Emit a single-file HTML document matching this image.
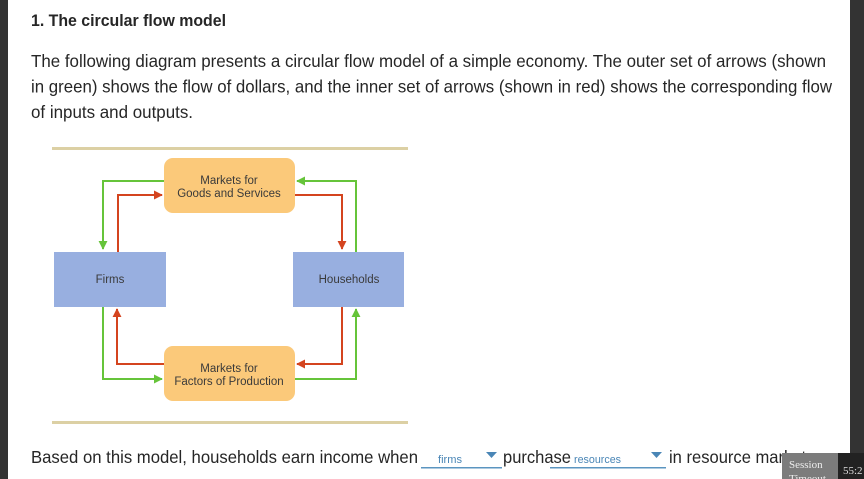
<!DOCTYPE html>
<html><head><meta charset="utf-8"><style>
html,body{margin:0;padding:0;background:#fff;}
svg{display:block;}
</style></head><body>
<svg width="864" height="479" viewBox="0 0 864 479" xmlns="http://www.w3.org/2000/svg" font-family="Liberation Sans, Arial, sans-serif">
<defs>
<marker id="ag" viewBox="0 0 10 10" refX="9" refY="5" markerWidth="4.5" markerHeight="4.5" orient="auto"><path d="M0,0 L10,5 L0,10 z" fill="#66c43a"/></marker>
<marker id="ar" viewBox="0 0 10 10" refX="9" refY="5" markerWidth="4.5" markerHeight="4.5" orient="auto"><path d="M0,0 L10,5 L0,10 z" fill="#d4441f"/></marker>
</defs>
<rect x="0" y="0" width="864" height="479" fill="#fff"/>
<rect x="0" y="0" width="8" height="479" fill="#333"/>
<rect x="850" y="0" width="14" height="479" fill="#333"/>

<text x="31" y="26" font-size="17" font-weight="bold" fill="#262626" textLength="195" lengthAdjust="spacingAndGlyphs">1. The circular flow model</text>
<text x="31" y="67" font-size="17.5" fill="#262626" textLength="795" lengthAdjust="spacingAndGlyphs">The following diagram presents a circular flow model of a simple economy. The outer set of arrows (shown</text>
<text x="31" y="92.5" font-size="17.5" fill="#262626" textLength="801" lengthAdjust="spacingAndGlyphs">in green) shows the flow of dollars, and the inner set of arrows (shown in red) shows the corresponding flow</text>
<text x="31" y="118" font-size="17.5" fill="#262626" textLength="162" lengthAdjust="spacingAndGlyphs">of inputs and outputs.</text>

<!-- diagram -->
<rect x="52" y="147" width="356" height="3" fill="#dcd0a4"/>
<rect x="52" y="421" width="356" height="3" fill="#dcd0a4"/>

<rect x="54" y="252" width="112" height="55" fill="#98afe0"/>
<rect x="293" y="252" width="111" height="55" fill="#98afe0"/>
<rect x="164" y="158" width="131" height="55" rx="9" fill="#fbc97a"/>
<rect x="164" y="346" width="131" height="55" rx="9" fill="#fbc97a"/>

<g fill="none" stroke-width="2">
<polyline points="164,181 103,181 103,249" stroke="#66c43a" marker-end="url(#ag)"/>
<polyline points="118,252 118,195 162,195" stroke="#d4441f" marker-end="url(#ar)"/>
<polyline points="356,252 356,181 297,181" stroke="#66c43a" marker-end="url(#ag)"/>
<polyline points="295,195 342,195 342,249" stroke="#d4441f" marker-end="url(#ar)"/>
<polyline points="164,364 117,364 117,309" stroke="#d4441f" marker-end="url(#ar)"/>
<polyline points="103,307 103,379 162,379" stroke="#66c43a" marker-end="url(#ag)"/>
<polyline points="342,307 342,364 297,364" stroke="#d4441f" marker-end="url(#ar)"/>
<polyline points="295,379 356,379 356,309" stroke="#66c43a" marker-end="url(#ag)"/>
</g>

<g font-size="11.5" fill="#3a3a3a" text-anchor="middle">
<text x="229" y="184">Markets for</text>
<text x="229" y="197">Goods and Services</text>
<text x="110" y="283">Firms</text>
<text x="349" y="283">Households</text>
<text x="229" y="372">Markets for</text>
<text x="229" y="385">Factors of Production</text>
</g>

<!-- bottom sentence -->
<text x="31" y="463" font-size="17.5" fill="#262626" textLength="387" lengthAdjust="spacingAndGlyphs">Based on this model, households earn income when</text>
<rect x="421" y="467" width="81" height="1.5" fill="#5b95c0"/>
<text x="438" y="463" font-size="11" fill="#4a86b6" textLength="24" lengthAdjust="spacingAndGlyphs">firms</text>
<path d="M486,452 L497,452 L491.5,458 z" fill="#4a86b6"/>
<text x="503" y="463" font-size="17.5" fill="#262626" textLength="68" lengthAdjust="spacingAndGlyphs">purchase</text>
<rect x="550" y="467" width="116" height="1.5" fill="#5b95c0"/>
<text x="574" y="463" font-size="11" fill="#4a86b6" textLength="47" lengthAdjust="spacingAndGlyphs">resources</text>
<path d="M651,452 L662,452 L656.5,458 z" fill="#4a86b6"/>
<text x="669" y="463" font-size="17.5" fill="#262626" textLength="150" lengthAdjust="spacingAndGlyphs">in resource markets.</text>

<!-- session timeout -->
<rect x="782" y="453" width="56" height="26" fill="#7c7c7c"/>
<text x="789" y="468" font-size="11" fill="#eee" font-family="Liberation Serif, serif">Session</text>
<text x="789" y="482" font-size="11" fill="#eee" font-family="Liberation Serif, serif">Timeout</text>
<rect x="838" y="453" width="26" height="26" fill="#222"/>
<text x="843" y="474" font-size="11" fill="#ddd" font-family="Liberation Serif, serif">55:2</text>
</svg>
</body></html>
